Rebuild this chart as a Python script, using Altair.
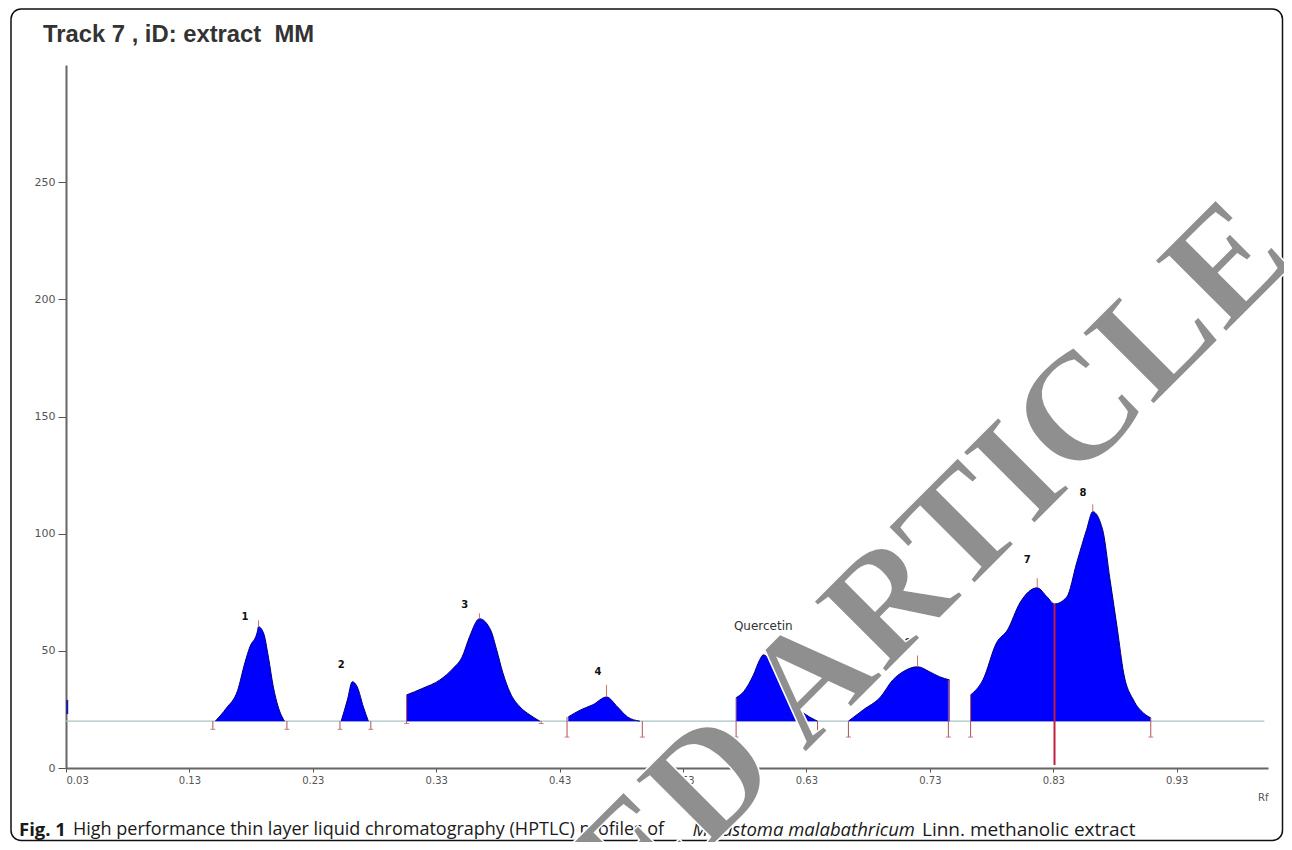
import altair as alt
import pandas as pd

# ---------------- data ----------------
peak1_rf = [0.151, 0.160, 0.169, 0.175, 0.179, 0.185, 0.186, 0.190, 0.194, 0.198, 0.202, 0.207]
peak1_val = [20, 25.6, 33, 45, 51.7, 58, 60.3, 57.7, 47.4, 34.6, 26, 20]

peak2_rf = [0.253, 0.258, 0.262, 0.266, 0.271, 0.275]
peak2_val = [20, 29, 36.8, 34.6, 26, 20]

peak3_rf = [0.306, 0.319, 0.333, 0.344, 0.351, 0.357, 0.365, 0.374, 0.379, 0.384, 0.390, 0.398, 0.406, 0.414]
peak3_val = [31.2, 34, 37.6, 42.7, 47.4, 56, 63.7, 59, 50.4, 40.6, 32, 26, 22.6, 20]

peak4_rf = [0.437, 0.447, 0.457, 0.468, 0.477, 0.485, 0.495]
peak4_val = [21.8, 24.8, 27, 30.3, 26, 21.8, 20]

querc_rf = [0.573, 0.579, 0.587, 0.592, 0.595, 0.606, 0.614, 0.622, 0.630, 0.639]
querc_val = [30, 32.5, 39.7, 46, 48.3, 40.6, 32, 26, 22.6, 20]

peak6_rf = [0.664, 0.676, 0.690, 0.700, 0.708, 0.720, 0.730, 0.738, 0.746]
peak6_val = [20, 24.8, 30.3, 37.6, 41, 43.2, 41, 38.9, 37.6]

peak78_rf = [0.763, 0.773, 0.784, 0.793, 0.803, 0.817, 0.825, 0.831, 0.841, 0.849,
             0.857, 0.862, 0.870, 0.876, 0.882, 0.887, 0.895, 0.903, 0.909]
peak78_val = [31.2, 37.6, 53.4, 59, 70.5, 76.9, 73, 70, 73, 87.6,
              101.7, 109.4, 101.7, 80.3, 59, 40.6, 29, 23.5, 21.4]

baseline_value = 20
baseline_rf = [0.03, 1.001]

bracket_rf = [0.149, 0.209, 0.252, 0.277, 0.306, 0.415, 0.436, 0.497, 0.573, 0.639, 0.664, 0.745, 0.763, 0.909]
bracket_top = [20, 20, 20, 20, 31.2, 20, 21.8, 20, 30, 20, 20, 37.6, 31.2, 21.4]
bracket_bottom = [16.5, 16.5, 16.5, 16.5, 19, 19, 13.2, 13.2, 13.2, 13.2, 13.2, 13.2, 13.2, 13.2]

valley_rf = [0.831]
valley_top = [70]
valley_bottom = [1.3]

top_rf = [0.186, 0.365, 0.468, 0.720, 0.817, 0.862]
top_lo = [60.3, 63.7, 30.3, 43.2, 76.9, 109.4]
top_hi = [63, 66, 35.5, 48, 81, 112.5]

label_text = ["1", "2", "3", "4", "Quercetin", "6", "7", "8"]
label_rf = [0.175, 0.253, 0.353, 0.461, 0.595, 0.712, 0.809, 0.854]
label_val = [64.5, 44, 69.7, 41, 60.7, 53.4, 88.9, 117.5]

start_mark_rf = [0.031]
start_mark_lo = [23]
start_mark_hi = [29]

x_ticks = [0.03, 0.13, 0.23, 0.33, 0.43, 0.53, 0.63, 0.73, 0.83, 0.93]
y_ticks = [0, 50, 100, 150, 200, 250]

title_text = "Track 7 , iD: extract \u00a0MM"
caption_bold = "Fig. 1"
caption_a = "High performance thin layer liquid chromatography (HPTLC) profiles of"
caption_italic = "Melastoma malabathricum"
caption_b = "Linn. methanolic extract"
watermark_text = "RETRACTED ARTICLE"

# ---------------- tables ----------------
peaks = []
for name, rfs, vals in [("1", peak1_rf, peak1_val), ("2", peak2_rf, peak2_val),
                        ("3", peak3_rf, peak3_val), ("4", peak4_rf, peak4_val),
                        ("Q", querc_rf, querc_val), ("6", peak6_rf, peak6_val),
                        ("78", peak78_rf, peak78_val)]:
    for r, v in zip(rfs, vals):
        peaks.append({"peak": name, "rf": r, "val": v, "base": baseline_value})
peaks_df = pd.DataFrame(peaks)

W, H = 1202, 703
x_scale = alt.Scale(domain=[0.03, 1.004], nice=False, zero=False)
y_scale = alt.Scale(domain=[0, 300], nice=False, zero=True)

x_axis = alt.Axis(
    values=x_ticks, format=".2f", title="Rf", titleAnchor="end", titleAlign="right",
    titleX=W, titleY=29, titleBaseline="middle", titleFont="DejaVu Sans",
    titleFontSize=10, titleFontWeight="normal", titleColor="#555",
    labelFont="DejaVu Sans", labelFontSize=10, labelColor="#555", labelPadding=3,
    tickSize=4, tickColor="#555", domainColor="#666", domainWidth=2, grid=False)
y_axis = alt.Axis(
    values=y_ticks, title=None, labelFont="DejaVu Sans", labelFontSize=11,
    labelColor="#555", labelPadding=3, tickSize=8, tickColor="#555",
    domainColor="#666", domainWidth=2, grid=False)


def X(field):
    return alt.X(field, scale=x_scale, axis=x_axis)


def Y(field):
    return alt.Y(field, scale=y_scale, axis=y_axis)


base_df = pd.DataFrame({"rf": [baseline_rf[0]], "rf2": [baseline_rf[1]], "v": [baseline_value]})
baseline = alt.Chart(base_df).mark_rule(color="#a8c4c6", strokeWidth=1.2).encode(
    x=X("rf:Q"), x2="rf2", y=Y("v:Q"))

areas = alt.Chart(peaks_df).mark_area(
    color="#0000ff", opacity=1, interpolate="monotone",
    line={"color": "#00007a", "strokeWidth": 1}
).encode(
    x=X("rf:Q"), y=Y("val:Q"), y2="base:Q", detail="peak:N",
)

br_df = pd.DataFrame({"rf": bracket_rf, "top": bracket_top, "bot": bracket_bottom})
brackets = alt.Chart(br_df).mark_rule(color="#b0505a", strokeWidth=1).encode(
    x=X("rf:Q"), y=Y("top:Q"), y2="bot")
feet = alt.Chart(br_df).mark_tick(color="#b0505a", thickness=1, size=5, orient="horizontal").encode(
    x=X("rf:Q"), y=Y("bot:Q"))

va_df = pd.DataFrame({"rf": valley_rf, "top": valley_top, "bot": valley_bottom})
valley = alt.Chart(va_df).mark_rule(color="#c0203c", strokeWidth=2).encode(
    x=X("rf:Q"), y=Y("top:Q"), y2="bot")

tp_df = pd.DataFrame({"rf": top_rf, "lo": top_lo, "hi": top_hi})
top_ticks = alt.Chart(tp_df).mark_rule(color="#d0705a", strokeWidth=1).encode(
    x=X("rf:Q"), y=Y("lo:Q"), y2="hi")

sm_df = pd.DataFrame({"rf": start_mark_rf, "lo": start_mark_lo, "hi": start_mark_hi})
start_mark = alt.Chart(sm_df).mark_rule(color="#1a1aa0", strokeWidth=2).encode(
    x=X("rf:Q"), y=Y("lo:Q"), y2="hi")

lab_df = pd.DataFrame({"t": label_text, "rf": label_rf, "v": label_val})
num_labels = alt.Chart(lab_df).transform_filter(alt.datum.t != "Quercetin").mark_text(
    font="DejaVu Sans", fontSize=10, fontWeight="bold", color="#111", baseline="middle").encode(
    x=X("rf:Q"), y=Y("v:Q"), text="t:N")
q_label = alt.Chart(lab_df).transform_filter(alt.datum.t == "Quercetin").mark_text(
    font="DejaVu Sans", fontSize=12, color="#333", baseline="middle").encode(
    x=X("rf:Q"), y=Y("v:Q"), text="t:N")

one = pd.DataFrame({"a": [0]})

frame = alt.Chart(one).mark_rect(fill=None, stroke="#111", strokeWidth=1.5, cornerRadius=10).encode(
    x=alt.value(-55), x2=alt.value(1216.5), y=alt.value(-56), y2=alt.value(775.5))

title = alt.Chart(one).mark_text(text=title_text, font="Liberation Sans", fontSize=23.8,
                                 fontWeight="bold", color="#333", align="left", baseline="middle").encode(
    x=alt.value(-23), y=alt.value(-30))

CAP = 18
cap1 = alt.Chart(one).mark_text(text=caption_bold, font="Open Sans", fontSize=CAP + 0.5, fontWeight="bold",
                                color="#1a1a1a", align="left", baseline="middle").encode(
    x=alt.value(-47), y=alt.value(765))
cap2 = alt.Chart(one).mark_text(text=caption_a, font="Open Sans", fontSize=CAP,
                                color="#1a1a1a", align="left", baseline="middle").encode(
    x=alt.value(7), y=alt.value(765))
cap3 = alt.Chart(one).mark_text(text=caption_italic, font="Open Sans", fontSize=CAP + 0.5, fontStyle="italic",
                                color="#1a1a1a", align="right", baseline="middle").encode(
    x=alt.value(849), y=alt.value(765))
cap4 = alt.Chart(one).mark_text(text=caption_b, font="Open Sans", fontSize=CAP + 1,
                                color="#1a1a1a", align="left", baseline="middle").encode(
    x=alt.value(856), y=alt.value(765))

watermark = alt.Chart(one).mark_text(text=watermark_text, font="Liberation Serif", fontSize=154,
                                     fontWeight="bold", fill="#8f8f8f", stroke="#ffffff",
                                     strokeWidth=1.5, angle=315,
                                     align="right", baseline="alphabetic").encode(
    x=alt.value(1231), y=alt.value(196))

chart = alt.layer(
    frame, baseline, areas, start_mark, brackets, feet, valley, top_ticks,
    num_labels, q_label, title, cap1, cap2, cap3, cap4, watermark
).properties(
    width=W, height=H, autosize="none",
    padding={"left": 58, "top": 57, "right": 16, "bottom": 74},
    background="white",
).configure_view(stroke=None)

chart.save("out.html", embed_options={"renderer": "svg", "actions": False})
